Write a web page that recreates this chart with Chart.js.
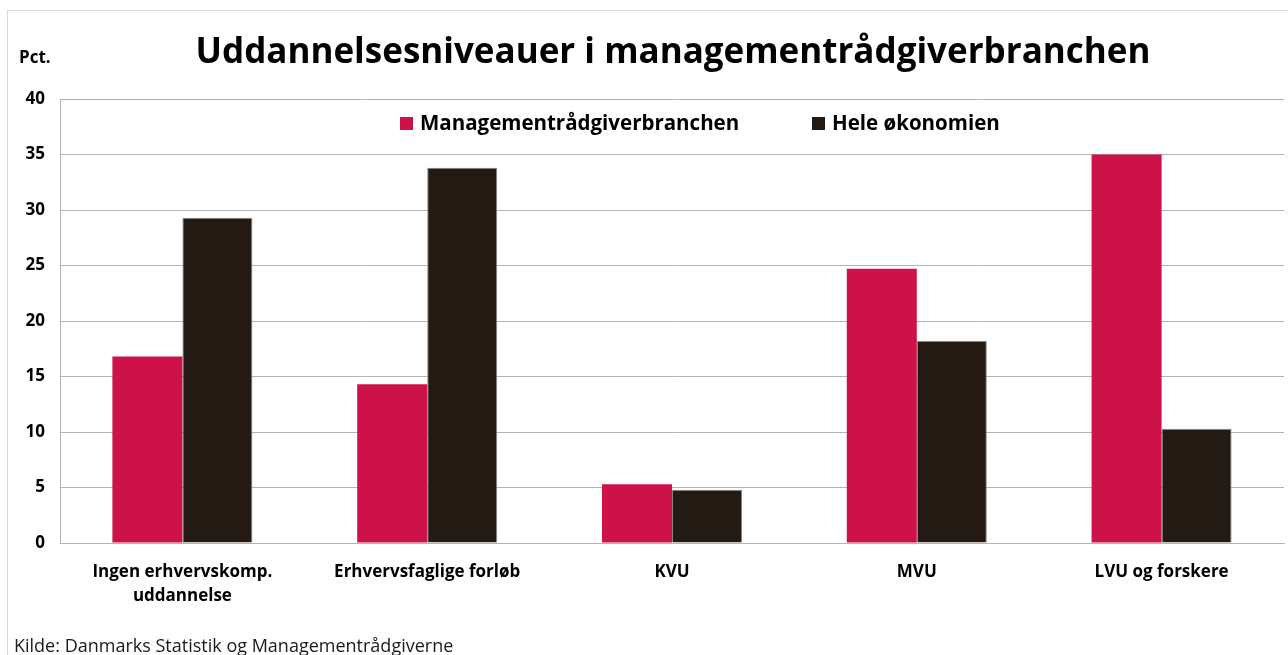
<!DOCTYPE html>
<html>
<head>
<meta charset="utf-8">
<script src="https://cdn.jsdelivr.net/npm/chart.js@4"></script>
<style>
html,body{margin:0;padding:0;background:#fff;}
#wrap{width:1288px;height:655px;position:relative;}
</style>
</head>
<body>
<div id="wrap"><canvas id="c" width="1288" height="655"></canvas></div>
<script>
const categories = [["Ingen erhvervskomp.", "uddannelse"], "Erhvervsfaglige forløb", "KVU", "MVU", "LVU og forskere"];
const seriesNames = ["Managementrådgiverbranchen", "Hele økonomien"];
const branchValues = [16.8, 14.3, 5.3, 24.7, 35.0];
const economyValues = [29.3, 33.8, 4.8, 18.2, 10.3];
const yTicks = [0, 5, 10, 15, 20, 25, 30, 35, 40];
const titleText = "Uddannelsesniveauer i managementrådgiverbranchen";
const yUnit = "Pct.";
const sourceText = "Kilde: Danmarks Statistik og Managementrådgiverne";

const FONT = "'Open Sans', Lato, sans-serif";

const decorPlugin = {
  id: 'decor',
  beforeDraw(chart) {
    const ctx = chart.ctx;
    ctx.save();
    ctx.fillStyle = '#fff';
    ctx.fillRect(0, 0, chart.width, chart.height);
    ctx.strokeStyle = '#d9d9d9';
    ctx.lineWidth = 1;
    ctx.strokeRect(7.5, 10.5, 1300, 700);
    ctx.restore();
  },
  afterDraw(chart) {
    const ctx = chart.ctx;
    ctx.save();
    ctx.fillStyle = '#000';
    ctx.textBaseline = 'alphabetic';
    ctx.textAlign = 'center';
    ctx.font = "bold 35px " + FONT;
    ctx.fillText(titleText, 673, 63);
    ctx.textAlign = 'left';
    ctx.font = "bold 17px " + FONT;
    ctx.fillText(yUnit, 19, 63);
    ctx.font = "18px " + FONT;
    ctx.fillStyle = '#1a1a1a';
    ctx.fillText(sourceText, 14, 652);
    // legend
    const items = chart.data.datasets;
    const xs = [400, 812];
    ctx.font = "bold 20.5px " + FONT;
    ctx.textBaseline = 'middle';
    items.forEach((ds, i) => {
      ctx.fillStyle = ds.backgroundColor;
      ctx.fillRect(xs[i], 117, 13, 13);
      ctx.fillStyle = '#000';
      ctx.fillText(ds.label, xs[i] + 20, 124);
    });
    ctx.restore();
  }
};

new Chart(document.getElementById('c'), {
  type: 'bar',
  data: {
    labels: categories,
    datasets: [
      { label: seriesNames[0], data: branchValues, backgroundColor: '#CC1248', borderWidth: 0 },
      { label: seriesNames[1], data: economyValues, backgroundColor: '#231A13', borderColor: '#8a8580', borderWidth: 1 }
    ]
  },
  options: {
    responsive: false,
    animation: false,
    devicePixelRatio: 1,
    layout: { padding: { top: 99, left: 0, right: 4, bottom: 0 } },
    datasets: { bar: { categoryPercentage: 0.572, barPercentage: 1 } },
    plugins: { legend: { display: false }, title: { display: false }, tooltip: { enabled: false } },
    scales: {
      x: {
        grid: { display: false, drawTicks: false },
        border: { display: true, color: '#b3b3b3', width: 1 },
        ticks: { color: '#000', font: { family: FONT, size: 17, weight: 'bold', lineHeight: 1.4 }, padding: 17, maxRotation: 0, autoSkip: false },
        afterFit(s) { s.height = 112; }
      },
      y: {
        min: 0, max: 40,
        afterBuildTicks(s) { s.ticks = yTicks.map(v => ({ value: v })); },
        grid: { color: '#b3b3b3', lineWidth: 1, drawTicks: false },
        border: { display: true, color: '#b3b3b3', width: 1 },
        ticks: { color: '#000', font: { family: FONT, size: 17, weight: 'bold' }, padding: 15 },
        afterFit(s) { s.width = 60; }
      }
    }
  },
  plugins: [decorPlugin]
});
</script>
</body>
</html>
